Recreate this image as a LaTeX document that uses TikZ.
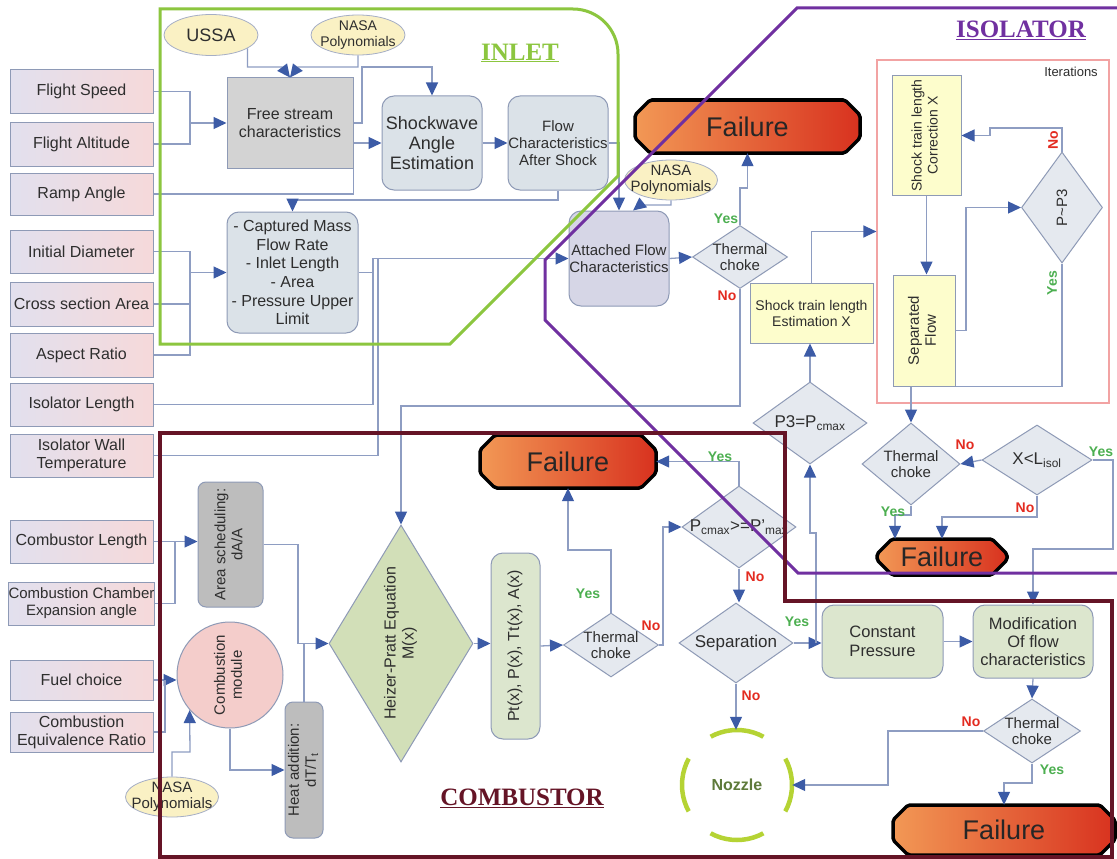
\documentclass[tikz,border=0pt]{standalone}
\usepackage{fontspec}
\usepackage{graphicx}
\setmainfont{Liberation Sans}
\newfontfamily\titlefont{Liberation Serif}
\usetikzlibrary{arrows.meta,shapes.geometric}

\newcommand\fsz[2]{\fontsize{#1}{#2}\selectfont}
\newcommand\vtext[1]{\rotatebox{90}{\begin{tabular}{@{}c@{}}#1\end{tabular}}}

\definecolor{linec}{HTML}{8E9DC2}
\definecolor{tipc}{HTML}{3C5BA6}
\definecolor{boxline}{HTML}{8E9AB6}
\definecolor{inL}{HTML}{E2E0EE}
\definecolor{inR}{HTML}{F6D9DA}
\definecolor{txt}{HTML}{2E2E2E}
\definecolor{blueg}{HTML}{DBE2E8}
\definecolor{grayfill}{HTML}{D3D3D3}
\definecolor{darkgray}{HTML}{BDBDBD}
\definecolor{lav}{HTML}{D6D6E6}
\definecolor{greenfill}{HTML}{DCE6CE}
\definecolor{hpfill}{HTML}{D2DFB8}
\definecolor{dmdfill}{HTML}{E5E9EF}
\definecolor{yelfill}{HTML}{FDFDCC}
\definecolor{nasafill}{HTML}{FAF1C4}
\definecolor{pinkfill}{HTML}{F4CDCB}
\definecolor{failL}{HTML}{F29855}
\definecolor{failR}{HTML}{D8321F}
\definecolor{inletc}{HTML}{8CC63F}
\definecolor{isoc}{HTML}{7030A0}
\definecolor{combc}{HTML}{651426}
\definecolor{iterc}{HTML}{F2A3A3}
\definecolor{yesc}{HTML}{4CAF50}
\definecolor{noc}{HTML}{E32B20}
\definecolor{nozzc}{HTML}{B5D334}
\definecolor{nozztext}{HTML}{5E7A3A}

\tikzset{
  every node/.style={text=txt},
  conn/.style={draw=linec, line width=1.3pt},
  arr/.style={conn, -{Triangle[length=13pt,width=12pt,color=tipc]}},
  base/.style={inner sep=0pt, align=center, draw=boxline, line width=1pt},
  inbox/.style={base, rectangle, left color=inL, right color=inR, minimum width=143pt, font=\fsz{16}{18}},
  gbox/.style={base, rectangle, fill=grayfill, font=\fsz{16}{18}},
  rbox/.style={base, rectangle, rounded corners=12pt, fill=blueg},
  gnbox/.style={rbox, fill=greenfill},
  dgbox/.style={base, rectangle, rounded corners=8pt, fill=darkgray},
  ybox/.style={base, rectangle, fill=yelfill},
  dmd/.style={diamond, draw=boxline, line width=1pt, fill=dmdfill, inner sep=0pt},
  ell/.style={ellipse, draw=boxline!80, line width=0.8pt, fill=nasafill, inner sep=0pt},
  lbl/.style={inner sep=0pt, align=center, font=\fsz{15}{16.5}},
  iterframe/.style={rectangle, draw=iterc, line width=1.2pt, inner sep=0pt},
  failshape/.style={draw=black, line width=3.5pt, rounded corners=2pt, left color=failL, right color=failR},
  failtxt/.style={inner sep=0pt, font=\fsz{27}{30}, text=black!85},
  yes/.style={inner sep=0pt, font=\bfseries\fsz{14}{16}, text=yesc},
  no/.style={inner sep=0pt, font=\bfseries\fsz{14}{16}, text=noc},
  titlef/.style={inner sep=0pt, font=\titlefont\bfseries\fsz{25}{28}},
  nozzring/.style={draw=nozzc, line width=4.5pt, dash pattern=on 55pt off 31.4pt, dash phase=27.5pt},
  region/.style={line width=3pt, line join=miter}
}

% chamfered "Failure" terminal: name, x1, y1, x2, y2
\newcommand\failbox[5]{%
  \path[failshape] (#2+15,#3) -- (#4-15,#3) -- (#4,#3+15) -- (#4,#5-15)
     -- (#4-15,#5) -- (#2+15,#5) -- (#2,#5-15) -- (#2,#3+15) -- cycle;
  \node[failtxt, minimum width={#4-#2}, minimum height={#5-#3}] (#1)
     at ({(#2+#4)/2},{(#3+#5)/2}) {Failure};}

\begin{document}
\begin{tikzpicture}[x=1pt,y=-1pt]
\useasboundingbox (0,0) rectangle (1117,859);
\fill[white] (0,0) rectangle (1117,859);

% ---------- input parameters ----------
\node[inbox, minimum height=43pt] (fspeed) at (81.5,91.5) {Flight Speed};
\node[inbox, minimum height=44pt] (falt) at (81.5,144) {Flight Altitude};
\node[inbox, minimum height=42pt] (ramp) at (81.5,194) {Ramp Angle};
\node[inbox, minimum height=43pt] (idiam) at (81.5,251.5) {Initial Diameter};
\node[inbox, minimum height=44pt] (csa) at (81.5,304) {Cross section Area};
\node[inbox, minimum height=44pt] (ar) at (81.5,355) {Aspect Ratio};
\node[inbox, minimum height=43pt] (isolen) at (81.5,404.5) {Isolator Length};
\node[inbox, minimum height=43pt] (iswt) at (81.5,455.5) {Isolator Wall\\Temperature};
\node[inbox, minimum height=43pt] (clen) at (81.5,541.5) {Combustor Length};
\node[inbox, minimum height=43pt, font=\fsz{15}{17}] (ccea) at (81.5,603.5) {Combustion Chamber\\Expansion angle};
\node[inbox, minimum height=40pt] (fuel) at (81.5,680) {Fuel choice};
\node[inbox, minimum height=40pt] (cer) at (81.5,732) {Combustion\\Equivalence Ratio};

% ---------- inlet ----------
\node[ell, minimum width=94pt, minimum height=41pt] (ussa) at (211,35) {};
\node[lbl, font=\fsz{18}{20}] (ussat) at (ussa) {USSA};
\node[ell, minimum width=94pt, minimum height=40pt] (nasa1) at (358,35) {};
\node[lbl, font=\fsz{14}{15.5}] (nasa1t) at (nasa1) {NASA\\Polynomials};
\node[gbox, minimum width=126pt, minimum height=90pt] (fsc) at (290,123) {Free stream\\characteristics};
\node[rbox, minimum width=100pt, minimum height=94pt, font=\fsz{18}{20}] (swa) at (432,143) {Shockwave\\Angle\\Estimation};
\node[rbox, minimum width=100pt, minimum height=94pt, font=\fsz{15}{17}] (fcas) at (558,143) {Flow\\Characteristics\\After Shock};
\node[rbox, minimum width=131pt, minimum height=121pt, font=\fsz{16}{18.7}] (cmf) at (292.5,272.5) {- Captured Mass\\Flow Rate\\- Inlet Length\\- Area\\- Pressure Upper\\Limit};

% ---------- isolator ----------
\node[ell, minimum width=93pt, minimum height=40pt] (nasa2) at (671,180) {};
\node[lbl] (nasa2t) at (nasa2) {NASA\\Polynomials};
\node[rbox, fill=lav, minimum width=100pt, minimum height=95pt, font=\fsz{15}{17}] (afc) at (619,258.5) {Attached Flow\\Characteristics};
\node[dmd, minimum width=95pt, minimum height=63pt] (tc1) at (740,257) {};
\node[lbl] (tc1t) at (tc1) {Thermal\\choke};
\failbox{fail1}{635}{100}{860}{153}
\node[ybox, minimum width=123pt, minimum height=60pt, font=\fsz{14}{16}] (stle) at (811.5,313) {Shock train length\\Estimation X};
\node[iterframe, minimum width=232pt, minimum height=343pt] (iterbox) at (993,231.5) {};
\node[inner sep=0pt, font=\fsz{13}{15}] (itert) at (1071,72) {Iterations};
\node[ybox, minimum width=69pt, minimum height=119pt, font=\fsz{14}{16}] (stlc) at (926.5,135.5) {\vtext{Shock train length\\Correction X}};
\node[ybox, minimum width=62pt, minimum height=111pt, font=\fsz{15}{17}] (sepf) at (924,330.5) {\vtext{Separated\\Flow}};
\node[dmd, minimum width=81pt, minimum height=111pt] (pp3) at (1062,207.5) {};
\node[lbl, rotate=90] (pp3t) at (pp3) {P\textasciitilde P3};
\node[dmd, minimum width=114pt, minimum height=82pt] (p3) at (810,423) {};
\node[lbl, font=\fsz{17}{19}] (p3t) at (p3) {P3=P\textsubscript{cmax}};
\node[dmd, minimum width=98pt, minimum height=82pt] (tc2) at (911,464) {};
\node[lbl] (tc2t) at (tc2) {Thermal\\choke};
\node[dmd, minimum width=110pt, minimum height=70pt] (xl) at (1037,460) {};
\node[lbl, font=\fsz{17}{19}] (xlt) at (xl) {X<L\textsubscript{isol}};
\failbox{fail3}{877}{539}{1007}{575}

% ---------- combustor ----------
\failbox{fail2}{480}{435}{656}{488}
\node[dmd, minimum width=114pt, minimum height=82pt] (pcm) at (739,527) {};
\node[lbl, font=\fsz{17}{19}] (pcmt) at (pcm) {P\textsubscript{cmax}>=P'\textsubscript{max}};
\node[dmd, minimum width=95pt, minimum height=64pt] (tc3) at (611,645) {};
\node[lbl] (tc3t) at (tc3) {Thermal\\choke};
\node[dmd, minimum width=114pt, minimum height=80pt] (sep) at (736,643) {};
\node[lbl, font=\fsz{17}{19}] (sept) at (sep) {Separation};
\node[circle, inner sep=0pt, minimum size=110pt, font=\bfseries\fsz{16}{18}, text=nozztext] (nozzle) at (737,785) {Nozzle};
\draw[nozzring] (nozzle.center) circle[radius=55];
\node[gnbox, minimum width=121pt, minimum height=73pt, font=\fsz{16.5}{19}] (cp) at (882.5,641.5) {Constant\\Pressure};
\node[gnbox, minimum width=120pt, minimum height=73pt, font=\fsz{16.5}{18}] (mod) at (1033,641.5) {Modification\\Of flow\\characteristics};
\node[dmd, minimum width=97pt, minimum height=64pt] (tc4) at (1032,731) {};
\node[lbl] (tc4t) at (tc4) {Thermal\\choke};
\failbox{fail4}{893}{805}{1115}{855}
\node[dmd, fill=hpfill, minimum width=144pt, minimum height=237pt] (hp) at (401,643.5) {};
\node[lbl, font=\fsz{16}{18}] (hpt) at (hp) {\vtext{Heizer-Pratt Equation\\M(x)}};
\node[gnbox, minimum width=49pt, minimum height=186pt, font=\fsz{16}{18}] (ptx) at (515.5,646) {\vtext{Pt(x), P(x), Tt(x), A(x)}};
\node[dgbox, minimum width=65pt, minimum height=125pt, font=\fsz{15}{17}] (area) at (230.5,544.5) {\vtext{Area scheduling:\\dA/A}};
\node[base, circle, fill=pinkfill, minimum size=106pt, font=\fsz{15}{17}] (cmod) at (230,675) {\vtext{Combustion\\module}};
\node[dgbox, minimum width=38pt, minimum height=136pt, font=\fsz{15}{17}] (heat) at (304,770) {\vtext{Heat addition:\\dT/T\textsubscript{t}}};
\node[ell, minimum width=93pt, minimum height=40pt] (nasa3) at (172,797) {};
\node[lbl] (nasa3t) at (nasa3) {NASA\\Polynomials};

% ---------- junctions ----------
\coordinate (j1) at (190,123);
\coordinate (jc) at (190,272.5);
\coordinate (jh) at (298,643.5);
\coordinate (jp) at (816,643);

% ---------- connectors: inlet ----------
\draw[conn] (fspeed.east) -| (190,144) -- (falt.east);
\draw[arr] (j1) -- (fsc.west);
\draw[arr] (ussa.-20) |- (282,67) -- (fsc.north);
\draw[arr] (nasa1.south) |- (298,67) -- (fsc.north);
\draw[arr] (fsc.east) -- (362,123) -- (362,67) -| (swa.north);
\draw[arr] (fsc.east |- swa.west) -- (swa.west);
\draw[conn] (ramp.east) -| (fsc.south east);
\draw[arr] (swa.east) -- (fcas.west);
\draw[arr] (fcas.south) -- (558,200) -| (cmf.north);
\draw[arr] (fcas.east) -| (afc.north);
\draw[arr] (nasa2.south) |- (640,205) -- ([xshift=14pt]afc.north);
\draw[conn] (idiam.east) -| (190,355) -- (ar.east);
\draw[conn] (csa.east) -- (190,304);
\draw[arr] (jc) -- (cmf.west);

% ---------- connectors: isolator ----------
\draw[conn] (cmf.east) -- (373,272.5);
\draw[arr] (isolen.east) -| (373,258.5) -- (afc.west);
\draw[conn] (iswt.east) -| (378,258.5);
\draw[arr] (afc.east) -- (tc1.west);
\draw[arr] (tc1.north) -- (740,188) -| (fail1.south);
\draw[arr] (tc1.south) -- (740,406) -| (hp.north);
\draw[arr] (stle.north) |- (iterbox.west);
\draw[arr] (p3.north) -- (p3.north |- stle.south);
\draw[arr] (stlc.south) -- (stlc.south |- sepf.north);
\draw[arr] (sepf.east) -- (966,330.5) |- (pp3.west);
\draw[arr] (pp3.north) |- (990,128) -- (990,135.5) -- (stlc.east);
\draw[conn] (pp3.south) |- (sepf.south east);
\draw[arr] (tc2.north |- sepf.south) -- (tc2.north);
\draw[arr] (xl.west) -- (tc2.east);
\draw[arr] (xl.south) |- (942,517) -- (fail3.north);
\draw[arr] (tc2.south) |- (895,515) -- ([xshift=-47pt]fail3.north);
\draw[arr] (xl.east) -- (1113,460) |- (1033,549) -- (mod.north);

% ---------- connectors: combustor ----------
\draw[arr] (clen.east) -- (area.west |- clen.east);
\draw[conn] (ccea.east) -| (175,541.5);
\draw[conn] (area.east) -| (jh);
\draw[conn] (heat.north) |- (jh);
\draw[arr] (jh) -- (hp.west);
\draw[arr] (fuel.east) -- (cmod.west |- fuel.east);
\draw[conn] (cer.east) -| (165,680);
\draw[arr] (nasa3.north) |- (190,752) -- (cmod.-139);
\draw[arr] (cmod.south) |- (heat.west);
\draw[arr] (hp.east) -- (ptx.west |- hp.east);
\draw[arr] (ptx.east) -- (tc3.west);
\draw[arr] (tc3.north) |- (568,550) -- (fail2.south);
\draw[arr] (tc3.east) -- (663,645) |- (pcm.west);
\draw[arr] (pcm.north) |- (fail2.east);
\draw[arr] (pcm.south) -- (pcm.south |- sep.north);
\draw[arr] (sep.east) -- (cp.west |- sep.east);
\draw[arr] (sep.south) -- (sep.south |- nozzle.north);
\draw[arr] (jp) |- (810,533) -- (p3.south);
\draw[arr] (cp.east) -- (mod.west);
\draw[arr] (mod.south) -- (tc4.north);
\draw[arr] (tc4.west) -| (888,785) -- (nozzle.east);
\draw[arr] (tc4.south) |- (1004,783) -- (fail4.north);

% ---------- decision labels ----------
\node[yes] (y1) at (726,219) {Yes};
\node[no] (n1) at (727,296) {No};
\node[no, rotate=90] (n2) at (1053,140) {No};
\node[yes, rotate=90] (y2) at (1052,283) {Yes};
\node[yes] (y3) at (893,512) {Yes};
\node[no] (n3) at (965,445) {No};
\node[no] (n4) at (1025,508) {No};
\node[yes] (y4) at (1101,452) {Yes};
\node[yes] (y5) at (720,457) {Yes};
\node[no] (n5) at (755,577) {No};
\node[yes] (y6) at (588,594) {Yes};
\node[no] (n6) at (651,626) {No};
\node[yes] (y7) at (797,622) {Yes};
\node[no] (n7) at (751,696) {No};
\node[no] (n8) at (971,722) {No};
\node[yes] (y8) at (1052,770) {Yes};

% ---------- module outlines ----------
\draw[region, draw=inletc] (160,9) -- (160,344) -- (450,344) -- (618,176) -- (618,54)
   arc[start angle=0, end angle=-90, radius=45] -- cycle;
\draw[region, draw=isoc] (1117,8) -- (797,8) -- (545,260) -- (545,320) -- (798,573) -- (1117,573);
\draw[region, draw=combc, line width=3.5pt] (160,857) -- (160,433) -- (785,433) -- (785,601) -- (1112,601) -- (1112,857) -- cycle;

% ---------- module titles ----------
\node[titlef, text=inletc] (inlett) at (520,53) {\underline{INLET}};
\node[titlef, text=isoc] (isot) at (1021,30) {\underline{ISOLATOR}};
\node[titlef, text=combc] (combt) at (522,798) {\underline{COMBUSTOR}};
\end{tikzpicture}
\end{document}
